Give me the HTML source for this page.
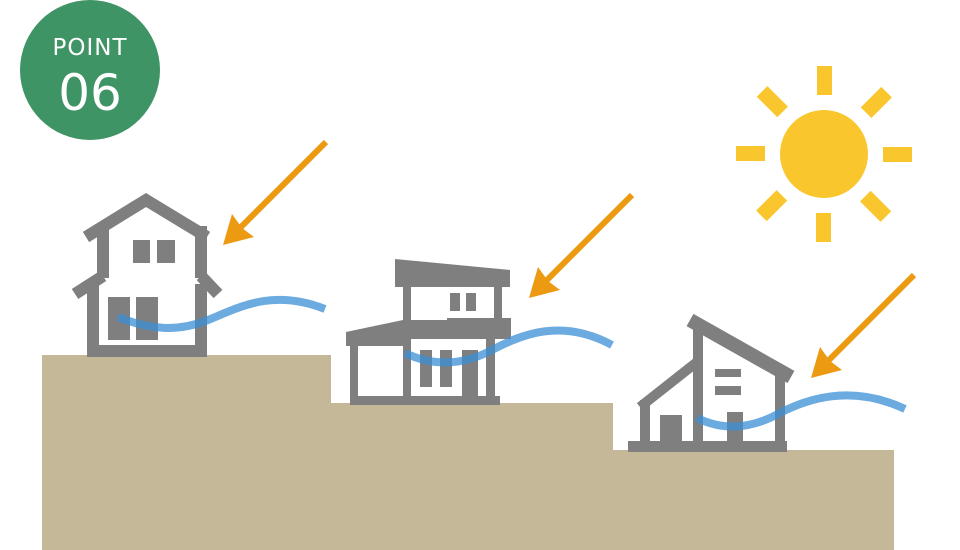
<!DOCTYPE html>
<html><head><meta charset="utf-8"><style>html,body{margin:0;padding:0;background:#fff}svg{display:block}</style></head>
<body>
<svg width="960" height="550" viewBox="0 0 960 550" xmlns="http://www.w3.org/2000/svg">
<rect width="960" height="550" fill="#fff"/>
<path d="M42,355 H331 V403 H613 V450 H894 V550 H42 Z" fill="#c5b898"/>
<circle cx="90" cy="70" r="70" fill="#3f9466"/>
<text x="90" y="55" text-anchor="middle" font-family="'DejaVu Sans','Liberation Sans',sans-serif" font-size="23" fill="#fff" letter-spacing="1">POINT</text>
<text x="90" y="110" text-anchor="middle" font-family="'DejaVu Sans','Liberation Sans',sans-serif" font-size="50" fill="#fff">06</text>
<g fill="#f9c62d">
<circle cx="824" cy="154" r="44"/>
<g id="ray"><rect x="817" y="66" width="15" height="29"/></g>
<use href="#ray" transform="rotate(45 824 154)"/>
<use href="#ray" transform="rotate(90 824 154)"/>
<use href="#ray" transform="rotate(135 824 154)"/>
<use href="#ray" transform="rotate(180 824 154)"/>
<use href="#ray" transform="rotate(225 824 154)"/>
<use href="#ray" transform="rotate(270 824 154)"/>
<use href="#ray" transform="rotate(315 824 154)"/>
</g>
<g id="arr">
<line x1="326" y1="142" x2="240" y2="228" stroke="#ec9a12" stroke-width="6"/>
<polygon points="223,245 232,214 242,228 254,237" fill="#ec9a12"/>
</g>
<use href="#arr" transform="translate(306,53)"/>
<use href="#arr" transform="translate(588,133)"/>
<!-- house 1 -->
<g fill="none" stroke="#7f7f7f" stroke-width="12">
<polyline points="86,237 146,200 207,237"/>
<line x1="103" y1="226" x2="103" y2="278"/>
<line x1="201" y1="226" x2="201" y2="278"/>
<polyline points="75,294 103,276"/>
<polyline points="201,276 218,294"/>
<path d="M93,284 V351 H201 V284"/>
</g>
<g fill="#7f7f7f">
<rect x="133" y="240" width="17" height="23"/>
<rect x="157" y="240" width="18" height="23"/>
<rect x="108" y="297" width="22" height="43"/>
<rect x="136" y="297" width="22" height="43"/>
</g>
<!-- house 2 -->
<g fill="#7f7f7f">
<polygon points="395,259 510,270 510,287 395,287"/>
<rect x="403" y="285" width="8" height="50"/>
<rect x="494" y="285" width="8" height="50"/>
<rect x="450" y="293" width="10" height="18"/>
<rect x="466" y="293" width="10" height="18"/>
<rect x="447" y="318" width="64" height="12"/>
<polygon points="346,332 403,320 511,320 511,339 403,339 403,346 346,346"/>
<rect x="350" y="344" width="8" height="60"/>
<rect x="403" y="338" width="8" height="66"/>
<rect x="486" y="338" width="9" height="66"/>
<rect x="350" y="396" width="150" height="9"/>
<rect x="420" y="350" width="12" height="37"/>
<rect x="440" y="350" width="12" height="37"/>
<rect x="462" y="350" width="16" height="50"/>
</g>
<!-- house 3 -->
<g fill="#7f7f7f">
<rect x="628" y="441" width="159" height="11"/>
<rect x="693" y="325" width="10" height="120"/>
<rect x="775" y="368" width="10" height="77"/>
<rect x="640" y="400" width="10" height="45"/>
<rect x="715" y="369" width="26" height="8"/>
<rect x="715" y="386" width="26" height="9"/>
<rect x="727" y="412" width="16" height="33"/>
<rect x="660" y="415" width="22" height="30"/>
</g>
<g stroke="#7f7f7f" fill="none">
<line x1="690" y1="320" x2="791" y2="377" stroke-width="14"/>
<line x1="640" y1="407" x2="697" y2="362" stroke-width="10"/>
</g>
<!-- waves -->
<g fill="none" stroke="#3b8fd6" stroke-opacity="0.75">
<path d="M118,317 C150,330 178,332 208,320 S 272,288 325,309" stroke-width="8"/>
<path d="M405,353 C432,366 462,366 492,350 S 562,318 612,345" stroke-width="8"/>
<path d="M697,418 C722,430 748,430 778,414 S 852,384 905,409" stroke-width="8"/>
</g>
</svg>
</body></html>
